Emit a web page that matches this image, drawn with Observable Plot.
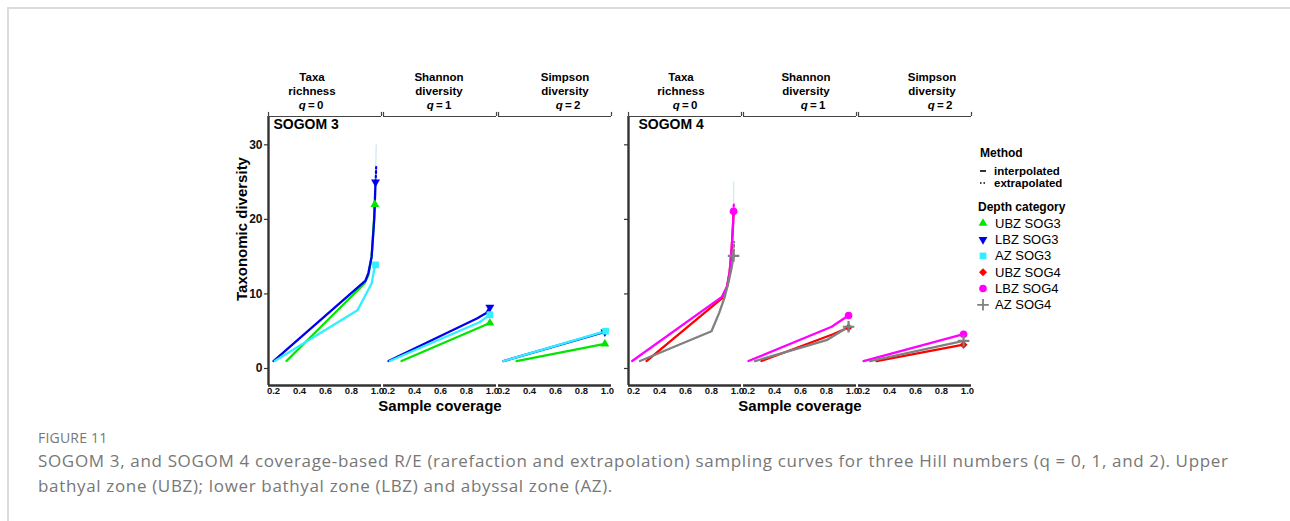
<!DOCTYPE html>
<html>
<head>
<meta charset="utf-8">
<script src="https://cdn.jsdelivr.net/npm/d3@7"></script>
<script src="https://cdn.jsdelivr.net/npm/@observablehq/plot@0.6"></script>
<style>
  html, body { margin: 0; padding: 0; background: #fff; }
  #page { position: relative; width: 1290px; height: 521px; overflow: hidden; font-family: "Liberation Sans", Arial, sans-serif; }
  .border { position: absolute; left: 7px; top: 7px; width: 1290px; height: 600px; border-top: 2px solid #dcdcdc; border-left: 2px solid #dcdcdc; }
  .abs { position: absolute; }
  .strip { position: absolute; font-weight: bold; font-size: 11.5px; line-height: 14px; color: #000; white-space: nowrap; transform: translate(-50%, -50%); text-align: center; }
  .axt { position: absolute; font-weight: bold; color: #000; white-space: nowrap; }
  .cap { position: absolute; left: 38px; font-family: "Open Sans", sans-serif; color: #777; white-space: nowrap; }
</style>
</head>
<body>
<div id="page">
  <div class="border"></div>
  <div id="left" class="abs" style="left:230px; top:60px;"></div>
  <div id="right" class="abs" style="left:600px; top:60px;"></div>
  <div id="strips"></div>
  <div class="axt" style="font-size:15px; left:241px; top:229px; transform: translate(-50%,-50%) rotate(-90deg);">Taxonomic diversity</div>
  <div class="axt" style="font-size:15px; left:440px; top:404.5px; transform: translate(-50%,-50%);">Sample coverage</div>
  <div class="axt" style="font-size:15px; left:800px; top:404.5px; transform: translate(-50%,-50%);">Sample coverage</div>
  <div id="legend" class="abs" style="left:970px; top:140px;"></div>
  <div class="cap" style="top:428px; font-size:14px; letter-spacing:0.2px;">FIGURE 11</div>
  <div class="cap" style="top:449px; font-size:17px; letter-spacing:0.66px;">SOGOM 3, and SOGOM 4 coverage-based R/E (rarefaction and extrapolation) sampling curves for three Hill numbers (q = 0, 1, and 2). Upper</div>
  <div class="cap" style="top:474px; font-size:17px; letter-spacing:0.66px;">bathyal zone (UBZ); lower bathyal zone (LBZ) and abyssal zone (AZ).</div>
</div>
<script>
// ---------------- data ----------------
const panels = ["SOGOM 3", "SOGOM 4"];
const hillTitles = ["Taxa\nrichness", "Shannon\ndiversity", "Simpson\ndiversity"];
const qOrders = ["0", "1", "2"];
const depthCategories = ["UBZ SOG3", "LBZ SOG3", "AZ SOG3", "UBZ SOG4", "LBZ SOG4", "AZ SOG4"];
const depthColors = ["#00e600", "#0000ee", "#33eeff", "#ff0000", "#ff00ff", "#808080"];
const methods = ["interpolated", "extrapolated"];
const coverageTicks = [0.2, 0.4, 0.6, 0.8, 1.0];
const diversityTicks = [0, 10, 20, 30];

// interpolated curves, [sample coverage, diversity], for q = 0, 1, 2
const ubz3 = [
  [[0.30, 1], [0.90, 11.4], [0.93, 12.5], [0.955, 15], [0.97, 19], [0.98, 22]],
  [[0.30, 1], [0.90, 5.5], [0.98, 6.1]],
  [[0.30, 1], [0.92, 3.1], [0.98, 3.3]]
];
const lbz3 = [
  [[0.20, 1], [0.908, 11.8], [0.93, 12.8], [0.955, 15], [0.975, 20], [0.985, 25]],
  [[0.20, 1], [0.88, 6.7], [0.95, 7.4], [0.98, 8.2]],
  [[0.20, 1], [0.98, 4.9]]
];
const az3 = [
  [[0.21, 1], [0.846, 7.8], [0.955, 11.4], [0.975, 13.3], [0.985, 13.9]],
  [[0.21, 1], [0.90, 6.2], [0.98, 7.2]],
  [[0.20, 1], [0.985, 5.0]]
];
const ubz4 = [
  [[0.30, 1], [0.88, 9.4], [0.92, 11], [0.94, 13], [0.955, 16], [0.965, 19], [0.97, 21]],
  [[0.30, 1], [0.85, 4.6], [0.97, 5.5]],
  [[0.30, 1], [0.97, 3.2]]
];
const lbz4 = [
  [[0.19, 1], [0.88, 9.6], [0.92, 11], [0.94, 13], [0.955, 16], [0.965, 19], [0.97, 21.1]],
  [[0.20, 1], [0.84, 5.6], [0.90, 6.3], [0.97, 7.1]],
  [[0.20, 1], [0.97, 4.6]]
];
const az4 = [
  [[0.25, 1], [0.80, 5], [0.86, 7.5], [0.90, 9.5], [0.93, 11.5], [0.955, 13.5], [0.97, 15.1]],
  [[0.25, 1], [0.80, 3.8], [0.97, 5.6]],
  [[0.25, 1], [0.97, 3.7]]
];
// extrapolated richness (q = 0)
const lbz3Extra = [[0.985, 25], [0.988, 26], [0.99, 27]];
const lbz4Extra = [[0.97, 21.1], [0.972, 22.3]];
const az4Extra = [[0.97, 15.1], [0.972, 16], [0.974, 17]];
// upper confidence limit of extrapolated richness (q = 0)
const lbz3Upper = [[0.985, 25], [0.99, 30]];
const lbz4Upper = [[0.97, 21.1], [0.972, 25]];

// ---------------- helpers ----------------
const xDomain = [0.1615, 1.031];
const yDomain = [-2.28, 33.8];
const sqrt3 = Math.sqrt(3);
const triangleDown = {
  draw(ctx, size) {
    const y = -Math.sqrt(size / (sqrt3 * 3));
    ctx.moveTo(0, -2 * y);
    ctx.lineTo(sqrt3 * y, y);
    ctx.lineTo(-sqrt3 * y, y);
    ctx.closePath();
  }
};
const depthSymbols = ["triangle", triangleDown, "square", "diamond2", "circle", "plus"];
const symbolR = [3.3, 3.3, 3.8, 3.6, 3.8, 3.8];

function toRows(name, curves) {
  return curves.flatMap((pts, i) => pts.map(([x, y]) => ({series: name, q: qOrders[i], x, y})));
}
function oneQ(name, pts, q) {
  return pts.map(([x, y]) => ({series: name, q, x, y}));
}

const panelSeries = {
  "SOGOM 3": [["UBZ SOG3", ubz3], ["LBZ SOG3", lbz3], ["AZ SOG3", az3]],
  "SOGOM 4": [["UBZ SOG4", ubz4], ["LBZ SOG4", lbz4], ["AZ SOG4", az4]]
};
const panelExtra = {
  "SOGOM 3": [["LBZ SOG3", lbz3Extra]],
  "SOGOM 4": [["LBZ SOG4", lbz4Extra], ["AZ SOG4", az4Extra]]
};
const panelUpper = {
  "SOGOM 3": [["LBZ SOG3", lbz3Upper]],
  "SOGOM 4": [["LBZ SOG4", lbz4Upper]]
};

function panelPlot(panel, marginLeft, width, showYLabels, titleDx) {
  const interp = panelSeries[panel].flatMap(([n, c]) => toRows(n, c));
  const extra = panelExtra[panel].flatMap(([n, p]) => oneQ(n, p, "0"));
  const upper = panelUpper[panel].flatMap(([n, p]) => oneQ(n, p, "0"));
  const ends = panelSeries[panel].flatMap(([n, c]) => c.map((pts, i) => {
    const [x, y] = pts[pts.length - 1];
    return {series: n, q: qOrders[i], x, y};
  }));
  const dotMarks = panelSeries[panel].map(([n]) => {
    const k = depthCategories.indexOf(n);
    const sym = depthSymbols[k];
    const isPlus = sym === "plus";
    return Plot.dot(ends.filter(d => d.series === n), {
      x: "x", y: "y", fx: "q", symbol: sym, r: symbolR[k],
      fill: isPlus ? "none" : "series", stroke: isPlus ? "series" : "none",
      strokeWidth: isPlus ? 2.2 : 0
    });
  });
  return Plot.plot({
    width, height: 355,
    marginLeft, marginRight: 8, marginTop: 56, marginBottom: 30,
    style: {background: "transparent", fontFamily: "'Liberation Sans', Arial, sans-serif", overflow: "visible"},
    fx: {domain: qOrders, paddingInner: 0.017, paddingOuter: 0, axis: null, label: null},
    x: {domain: xDomain, label: null},
    y: {domain: yDomain, label: null},
    color: {domain: depthCategories, range: depthColors},
    marks: [
      Plot.line(upper, {x: "x", y: "y", z: "series", fx: "q", stroke: "#bfe6ea", strokeWidth: 1}),
      Plot.line(interp, {x: "x", y: "y", z: "series", fx: "q", stroke: "series", strokeWidth: 2.3, strokeLinejoin: "round", strokeLinecap: "round"}),
      Plot.line(extra, {x: "x", y: "y", z: "series", fx: "q", stroke: "series", strokeWidth: 2.2, strokeDasharray: "2,2.5"}),
      ...dotMarks,
      Plot.ruleY([yDomain[0]], {stroke: "#333", strokeWidth: 2.6}),
      Plot.ruleX([{q: "0"}], {x: () => xDomain[0], fx: "q", stroke: "#333", strokeWidth: 2.4}),
      Plot.ruleY([yDomain[1]], {stroke: "#444", strokeWidth: 1.2}),
      Plot.ruleX([xDomain[0], xDomain[1]], {y1: yDomain[1], y2: yDomain[1] + 0.55, stroke: "#444", strokeWidth: 1.2}),
      Plot.axisX({ticks: coverageTicks, tickFormat: d3.format(".1f"), tickSize: 0, tickPadding: 2, fontSize: 9.5, fontWeight: "bold", fill: "#111", label: null}),
      Plot.axisY({ticks: diversityTicks, tickSize: 4, tickPadding: 2, strokeWidth: 1.2, stroke: "#333", fontSize: 12, fontWeight: "bold", fill: "#111", label: null,
        tickFormat: showYLabels ? (d => String(d)) : (() => "")}),
      Plot.text([{q: "0", label: panel}], {fx: "q", text: "label", frameAnchor: "top-left", dx: titleDx, dy: 3, fontSize: 14, fontWeight: "bold", fill: "#000"})
    ]
  });
}

document.getElementById("left").append(panelPlot("SOGOM 3", 38, 390, true, 5));
document.getElementById("right").append(panelPlot("SOGOM 4", 28, 380, false, 10));

// strip labels (nested facet headers)
const stripPos = [
  [312, 311], [439, 439], [565, 568],
  [681, 685], [806, 813], [932, 940]
];
const strips = document.getElementById("strips");
stripPos.forEach(([tx, qx], i) => {
  const k = i % 3;
  const t = document.createElement("div");
  t.className = "strip";
  t.style.left = tx + "px"; t.style.top = "84px";
  t.innerHTML = hillTitles[k].split("\n").join("<br>");
  strips.append(t);
  const q = document.createElement("div");
  q.className = "strip";
  q.style.left = qx + "px"; q.style.top = "105px";
  q.innerHTML = "<i>q</i>\u2009=\u2009" + qOrders[k];
  strips.append(q);
});

// legend
const leg = d3.select("#legend").append("svg").attr("width", 140).attr("height", 180)
  .style("font-family", "'Liberation Sans', Arial, sans-serif");
leg.append("text").attr("x", 10).attr("y", 13.3).attr("dominant-baseline", "central")
  .attr("font-size", 12).attr("font-weight", "bold").text("Method");
methods.forEach((m, i) => {
  const y = 31 + i * 12;
  leg.append("line").attr("x1", 10).attr("x2", 16).attr("y1", y).attr("y2", y)
    .attr("stroke", "#000").attr("stroke-width", 1.6)
    .attr("stroke-dasharray", i === 0 ? null : "1.5,2");
  leg.append("text").attr("x", 24).attr("y", y).attr("dominant-baseline", "central")
    .attr("font-size", 11.5).attr("font-weight", "bold").text(m);
});
leg.append("text").attr("x", 8).attr("y", 66.7).attr("dominant-baseline", "central")
  .attr("font-size", 12).attr("font-weight", "bold").text("Depth category");
const d3sym = {triangle: d3.symbolTriangle, square: d3.symbolSquare, diamond2: d3.symbolDiamond2, circle: d3.symbolCircle, plus: d3.symbolPlus};
depthCategories.forEach((c, i) => {
  const y = 83.3 + i * 16.3;
  const s = depthSymbols[i];
  const type = typeof s === "string" ? d3sym[s] : s;
  const path = d3.symbol(type, Math.PI * symbolR[i] * symbolR[i])();
  const isPlus = s === "plus";
  leg.append("path").attr("d", path).attr("transform", `translate(13,${y})`)
    .attr("fill", isPlus ? "none" : depthColors[i])
    .attr("stroke", isPlus ? depthColors[i] : "none").attr("stroke-width", isPlus ? 1.8 : 0);
  leg.append("text").attr("x", 25).attr("y", y).attr("dominant-baseline", "central")
    .attr("font-size", 13).text(c);
});
</script>
</body>
</html>
